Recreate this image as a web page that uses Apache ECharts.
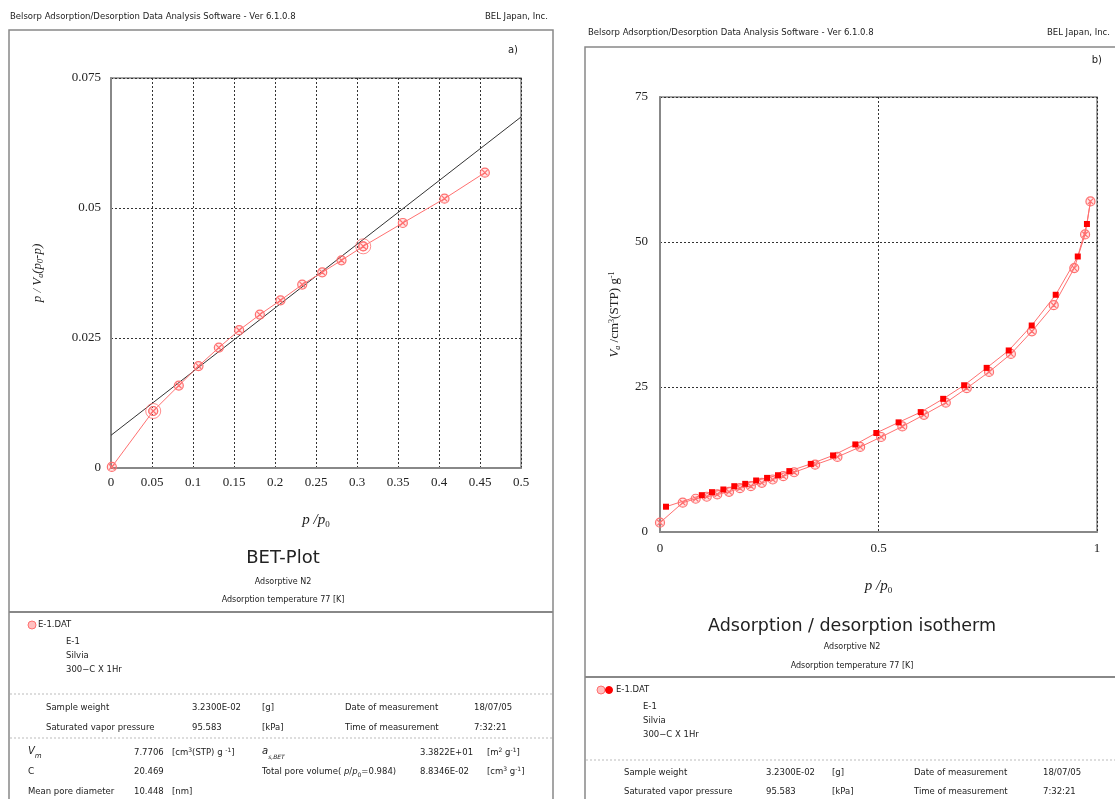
<!DOCTYPE html>
<html><head><meta charset="utf-8">
<script src="https://cdn.jsdelivr.net/npm/echarts@6/dist/echarts.min.js"></script>
<style>html,body{margin:0;padding:0;background:#fff}#c{width:1115px;height:799px}</style>
</head><body><div id="c"></div>
<script>
// ---- BET plot (a) ----
const betP = [0.001, 0.0515, 0.0827, 0.1067, 0.1315, 0.1563, 0.1815, 0.2067, 0.2332, 0.2576, 0.2811, 0.3076, 0.3559, 0.4067, 0.4559];
const betY = [0.0002, 0.01096, 0.01585, 0.0196, 0.02315, 0.0265, 0.0295, 0.03225, 0.03527, 0.03763, 0.03994, 0.04263, 0.04712, 0.0518, 0.0568];
const betRangeIdx = [1, 11];           // points marking the fitted range
const fitP = [0, 0.5];
const fitY = [0.00629, 0.0675];
const betXTicks = [0, 0.05, 0.1, 0.15, 0.2, 0.25, 0.3, 0.35, 0.4, 0.45, 0.5];
const betYTicks = [0, 0.025, 0.05, 0.075];

// ---- Isotherm (b) ----
const adsP = [0.0, 0.052, 0.0816, 0.107, 0.131, 0.158, 0.183, 0.208, 0.233, 0.258, 0.282, 0.307, 0.355, 0.406, 0.458, 0.506, 0.5545, 0.604, 0.654, 0.702, 0.753, 0.803, 0.851, 0.901, 0.948, 0.9727, 0.985];
const adsV = [1.61, 5.05, 5.73, 6.08, 6.47, 6.93, 7.56, 7.9, 8.48, 9.05, 9.62, 10.3, 11.6, 12.95, 14.66, 16.38, 18.2, 20.2, 22.3, 24.8, 27.6, 30.7, 34.6, 39.1, 45.5, 51.3, 57.0];
const desP = [0.977, 0.956, 0.9055, 0.8506, 0.798, 0.7475, 0.696, 0.648, 0.5966, 0.546, 0.495, 0.447, 0.396, 0.345, 0.296, 0.27, 0.245, 0.22, 0.195, 0.17, 0.145, 0.119, 0.0957, 0.0137];
const desV = [53.1, 47.5, 40.9, 35.6, 31.3, 28.3, 25.3, 22.96, 20.67, 18.9, 17.07, 15.1, 13.2, 11.74, 10.5, 9.79, 9.33, 8.88, 8.3, 7.9, 7.33, 6.87, 6.35, 4.36];
const isoXTicks = [0, 0.5, 1];
const isoYTicks = [0, 25, 50, 75];

// ---- texts ----
const headerLeft = 'Belsorp Adsorption/Desorption Data Analysis Software - Ver 6.1.0.8';
const headerRight = 'BEL Japan, Inc.';
const sampleLines = ['E-1', 'Silvia', '300\u2212C X 1Hr'];
const fileName = 'E-1.DAT';
const infoRow1 = ['Sample weight', '3.2300E-02', '[g]', 'Date of measurement', '18/07/05'];
const infoRow2 = ['Saturated vapor pressure', '95.583', '[kPa]', 'Time of measurement', '7:32:21'];
const vmVal = '7.7706', cVal = '20.469', mpdVal = '10.448';
const asVal = '3.3822E+01', tpvVal = '8.8346E-02';

const RED = '#ff3030', PINK = '#ff7070', INK = '#222';
const SANS = '"DejaVu Sans", sans-serif';
const SERIF = '"Liberation Serif", serif';
const FS = 8.5;
const ringSym = 'path://M10,0A10,10 0 1,1 -10,0A10,10 0 1,1 10,0ZM-6,-6L6,6M6,-6L-6,6';
const bigRingSym = 'path://M10,0A10,10 0 1,1 -10,0A10,10 0 1,1 10,0ZM6,0A6,6 0 1,1 -6,0A6,6 0 1,1 6,0Z';

const zip = (a, b) => a.map((v, i) => [v, b[i]]);

function T(x, y, text, opt) {
  opt = opt || {};
  return { type: 'text', x: x, y: y, silent: true,
    style: Object.assign({ text: text, font: (opt.size || FS) + 'px ' + SANS, fill: INK,
      textAlign: opt.align || 'left', textVerticalAlign: 'middle' }, opt.style || {}) };
}
function L(x1, y1, x2, y2, opt) {
  opt = opt || {};
  return { type: 'line', silent: true, shape: { x1, y1, x2, y2 },
    style: { stroke: opt.color || '#888', lineWidth: opt.w || 1, lineDash: opt.dash || null } };
}
function R(x, y, text, rich, font) {
  return { type: 'text', x: x, y: y, silent: true,
    style: { text: text, textVerticalAlign: 'middle', fill: INK, font: (font || FS) + 'px ' + SANS, rich: rich } };
}
const supRich = { u: { fontFamily: SANS, fontSize: 6, verticalAlign: 'top', lineHeight: 12, color: INK } };

const axisLabel = { color: INK, fontFamily: SERIF, fontSize: 13 };
const splitDash = { show: true, lineStyle: { color: '#333', type: [2, 2], width: 1 } };
const axLine = { show: true, lineStyle: { color: '#888', width: 2 } };
const nameRich = {
  i: { fontFamily: SERIF, fontStyle: 'italic', fontSize: 13, lineHeight: 14, verticalAlign: 'top', color: INK },
  n: { fontFamily: SERIF, fontSize: 13, lineHeight: 14, verticalAlign: 'top', color: INK },
  s: { fontFamily: SERIF, fontStyle: 'italic', fontSize: 8, lineHeight: 14, verticalAlign: 'bottom', color: INK },
  u: { fontFamily: SERIF, fontSize: 8, lineHeight: 14, verticalAlign: 'top', color: INK }
};
const xNameRich = {
  i: { fontFamily: SERIF, fontStyle: 'italic', fontSize: 15, lineHeight: 16, verticalAlign: 'top', color: INK },
  s: { fontFamily: SERIF, fontSize: 9, lineHeight: 16, verticalAlign: 'bottom', color: INK }
};

const graphics = [
  // left panel
  T(10, 17, headerLeft), T(548, 17, headerRight, { align: 'right' }),
  { type: 'rect', silent: true, shape: { x: 9, y: 30, width: 544, height: 820 }, style: { fill: 'none', stroke: '#888', lineWidth: 1.5 } },
  T(518, 50, 'a)', { size: 10, align: 'right' }),
  T(283, 558, 'BET-Plot', { size: 18, align: 'center' }),
  T(283, 582, 'Adsorptive N2', { size: 8, align: 'center' }),
  T(283, 600, 'Adsorption temperature 77 [K]', { size: 8, align: 'center' }),
  L(9, 612, 553, 612, { w: 2 }),
  { type: 'circle', silent: true, shape: { cx: 32, cy: 625, r: 4 }, style: { fill: '#ffc0c0', stroke: PINK, lineWidth: 1 } },
  T(38, 625, fileName),
  T(66, 642, sampleLines[0]), T(66, 656, sampleLines[1]), T(66, 670, sampleLines[2]),
  L(10, 694, 552, 694, { color: '#bbb', dash: [2, 2] }),
  T(46, 708, infoRow1[0]), T(192, 708, infoRow1[1]), T(262, 708, infoRow1[2]), T(345, 708, infoRow1[3]), T(474, 708, infoRow1[4]),
  T(46, 728, infoRow2[0]), T(192, 728, infoRow2[1]), T(262, 728, infoRow2[2]), T(345, 728, infoRow2[3]), T(474, 728, infoRow2[4]),
  L(10, 738, 552, 738, { color: '#bbb', dash: [2, 2] }),
  R(28, 753, '{i|V}{s|m}', { i: { fontFamily: SANS, fontStyle: 'italic', fontSize: 10, verticalAlign: 'top', lineHeight: 14, color: INK }, s: { fontFamily: SANS, fontStyle: 'italic', fontSize: 7, verticalAlign: 'bottom', lineHeight: 14, color: INK } }),
  T(134, 753, vmVal),
  R(172, 753, '[cm{u|3}(STP) g {u|-1}]', supRich),
  R(262, 753, '{i|a}{s|s,BET}', { i: { fontFamily: SANS, fontStyle: 'italic', fontSize: 10, verticalAlign: 'top', lineHeight: 14, color: INK }, s: { fontFamily: SANS, fontStyle: 'italic', fontSize: 6, verticalAlign: 'bottom', lineHeight: 14, color: INK } }),
  T(420, 753, asVal),
  R(487, 753, '[m{u|2} g{u|-1}]', supRich),
  T(28, 772, 'C', { size: 9, style: { fontStyle: 'italic' } }),
  T(134, 772, cVal),
  R(262, 772, 'Total pore volume( {i|p}/{i|p}{s|0}=0.984)', { i: { fontFamily: SANS, fontStyle: 'italic', fontSize: FS, color: INK }, s: { fontFamily: SANS, fontSize: 6, verticalAlign: 'bottom', lineHeight: 12, color: INK } }),
  T(420, 772, tpvVal),
  R(487, 772, '[cm{u|3} g{u|-1}]', supRich),
  T(28, 792, 'Mean pore diameter'), T(134, 792, mpdVal), T(172, 792, '[nm]'),

  // right panel
  T(588, 33, headerLeft), T(1110, 33, headerRight, { align: 'right' }),
  { type: 'rect', silent: true, shape: { x: 585, y: 47, width: 560, height: 820 }, style: { fill: 'none', stroke: '#888', lineWidth: 1.5 } },
  T(1102, 60, 'b)', { size: 10, align: 'right' }),
  T(852, 626, 'Adsorption / desorption isotherm', { size: 17.5, align: 'center' }),
  T(852, 647, 'Adsorptive N2', { size: 8, align: 'center' }),
  T(852, 666, 'Adsorption temperature 77 [K]', { size: 8, align: 'center' }),
  L(585, 677, 1115, 677, { w: 2 }),
  { type: 'circle', silent: true, shape: { cx: 601, cy: 690, r: 4 }, style: { fill: '#ffc0c0', stroke: PINK, lineWidth: 1 } },
  { type: 'circle', silent: true, shape: { cx: 609, cy: 690, r: 3.5 }, style: { fill: '#ff0000', stroke: '#ff0000', lineWidth: 1 } },
  T(616, 690, fileName),
  T(643, 707, sampleLines[0]), T(643, 721, sampleLines[1]), T(643, 735, sampleLines[2]),
  L(586, 760, 1115, 760, { color: '#bbb', dash: [2, 2] }),
  T(624, 773, infoRow1[0]), T(766, 773, infoRow1[1]), T(832, 773, infoRow1[2]), T(914, 773, infoRow1[3]), T(1043, 773, infoRow1[4]),
  T(624, 792, infoRow2[0]), T(766, 792, infoRow2[1]), T(832, 792, infoRow2[2]), T(914, 792, infoRow2[3]), T(1043, 792, infoRow2[4])
];

const chart = echarts.init(document.getElementById('c'), null, { renderer: 'canvas' });
chart.setOption({
  animation: false,
  backgroundColor: '#fff',
  grid: [
    { left: 111, top: 78, width: 410, height: 390, show: true, borderColor: '#888', borderWidth: 1.5, backgroundColor: 'transparent' },
    { left: 660, top: 97, width: 437, height: 435, show: true, borderColor: '#888', borderWidth: 1.5, backgroundColor: 'transparent' }
  ],
  xAxis: [
    { type: 'value', gridIndex: 0, min: betXTicks[0], max: betXTicks[betXTicks.length - 1], interval: betXTicks[1] - betXTicks[0],
      axisLine: axLine, axisTick: { show: false }, splitLine: splitDash, axisLabel: Object.assign({ margin: 8 }, axisLabel),
      name: '{i|p /p}{s|0}', nameLocation: 'middle', nameGap: 45, nameTextStyle: { color: INK, rich: xNameRich } },
    { type: 'value', gridIndex: 1, min: isoXTicks[0], max: isoXTicks[isoXTicks.length - 1], interval: isoXTicks[1] - isoXTicks[0],
      axisLine: axLine, axisTick: { show: false }, splitLine: splitDash, axisLabel: Object.assign({ margin: 10 }, axisLabel),
      name: '{i|p /p}{s|0}', nameLocation: 'middle', nameGap: 47, nameTextStyle: { color: INK, rich: xNameRich } }
  ],
  yAxis: [
    { type: 'value', gridIndex: 0, min: betYTicks[0], max: betYTicks[betYTicks.length - 1], interval: betYTicks[1] - betYTicks[0],
      axisLine: axLine, axisTick: { show: false }, splitLine: splitDash, axisLabel: Object.assign({ margin: 10 }, axisLabel),
      name: '{i|p / V}{s|a}{i|(p}{s|0}{i|-p)}', nameLocation: 'middle', nameGap: 66, nameRotate: 90,
      nameTextStyle: { color: INK, rich: nameRich } },
    { type: 'value', gridIndex: 1, min: isoYTicks[0], max: isoYTicks[isoYTicks.length - 1], interval: isoYTicks[1] - isoYTicks[0],
      axisLine: axLine, axisTick: { show: false }, splitLine: splitDash, axisLabel: Object.assign({ margin: 12 }, axisLabel),
      name: '{i|V}{s|a}{n| /cm}{u|3}{n|(STP) g}{u|-1}', nameLocation: 'middle', nameGap: 38, nameRotate: 90,
      nameTextStyle: { color: INK, rich: nameRich } }
  ],
  series: [
    { type: 'line', xAxisIndex: 0, yAxisIndex: 0, data: zip(fitP, fitY), symbol: 'none', lineStyle: { color: '#333', width: 1 }, z: 3 },
    { type: 'line', xAxisIndex: 0, yAxisIndex: 0, data: zip(betP, betY), symbol: ringSym, symbolSize: 9,
      lineStyle: { color: PINK, width: 1 }, itemStyle: { color: 'rgba(255,90,90,0.15)', borderColor: PINK, borderWidth: 1.2 }, z: 4 },
    { type: 'scatter', xAxisIndex: 0, yAxisIndex: 0, data: betRangeIdx.map(i => [betP[i], betY[i]]), symbol: bigRingSym, symbolSize: 15,
      itemStyle: { color: 'none', borderColor: PINK, borderWidth: 1 }, z: 5 },
    { type: 'line', xAxisIndex: 1, yAxisIndex: 1, data: zip(adsP, adsV), symbol: ringSym, symbolSize: 9,
      lineStyle: { color: PINK, width: 1 }, itemStyle: { color: 'rgba(255,90,90,0.15)', borderColor: PINK, borderWidth: 1.2 }, z: 4 },
    { type: 'line', xAxisIndex: 1, yAxisIndex: 1,
      data: [{ value: [adsP[adsP.length - 1], adsV[adsV.length - 1]], symbol: 'none' }].concat(zip(desP, desV)),
      symbol: 'rect', symbolSize: 6, lineStyle: { color: PINK, width: 1 }, itemStyle: { color: '#ff0000' }, z: 5 }
  ],
  graphic: graphics
});
</script></body></html>
